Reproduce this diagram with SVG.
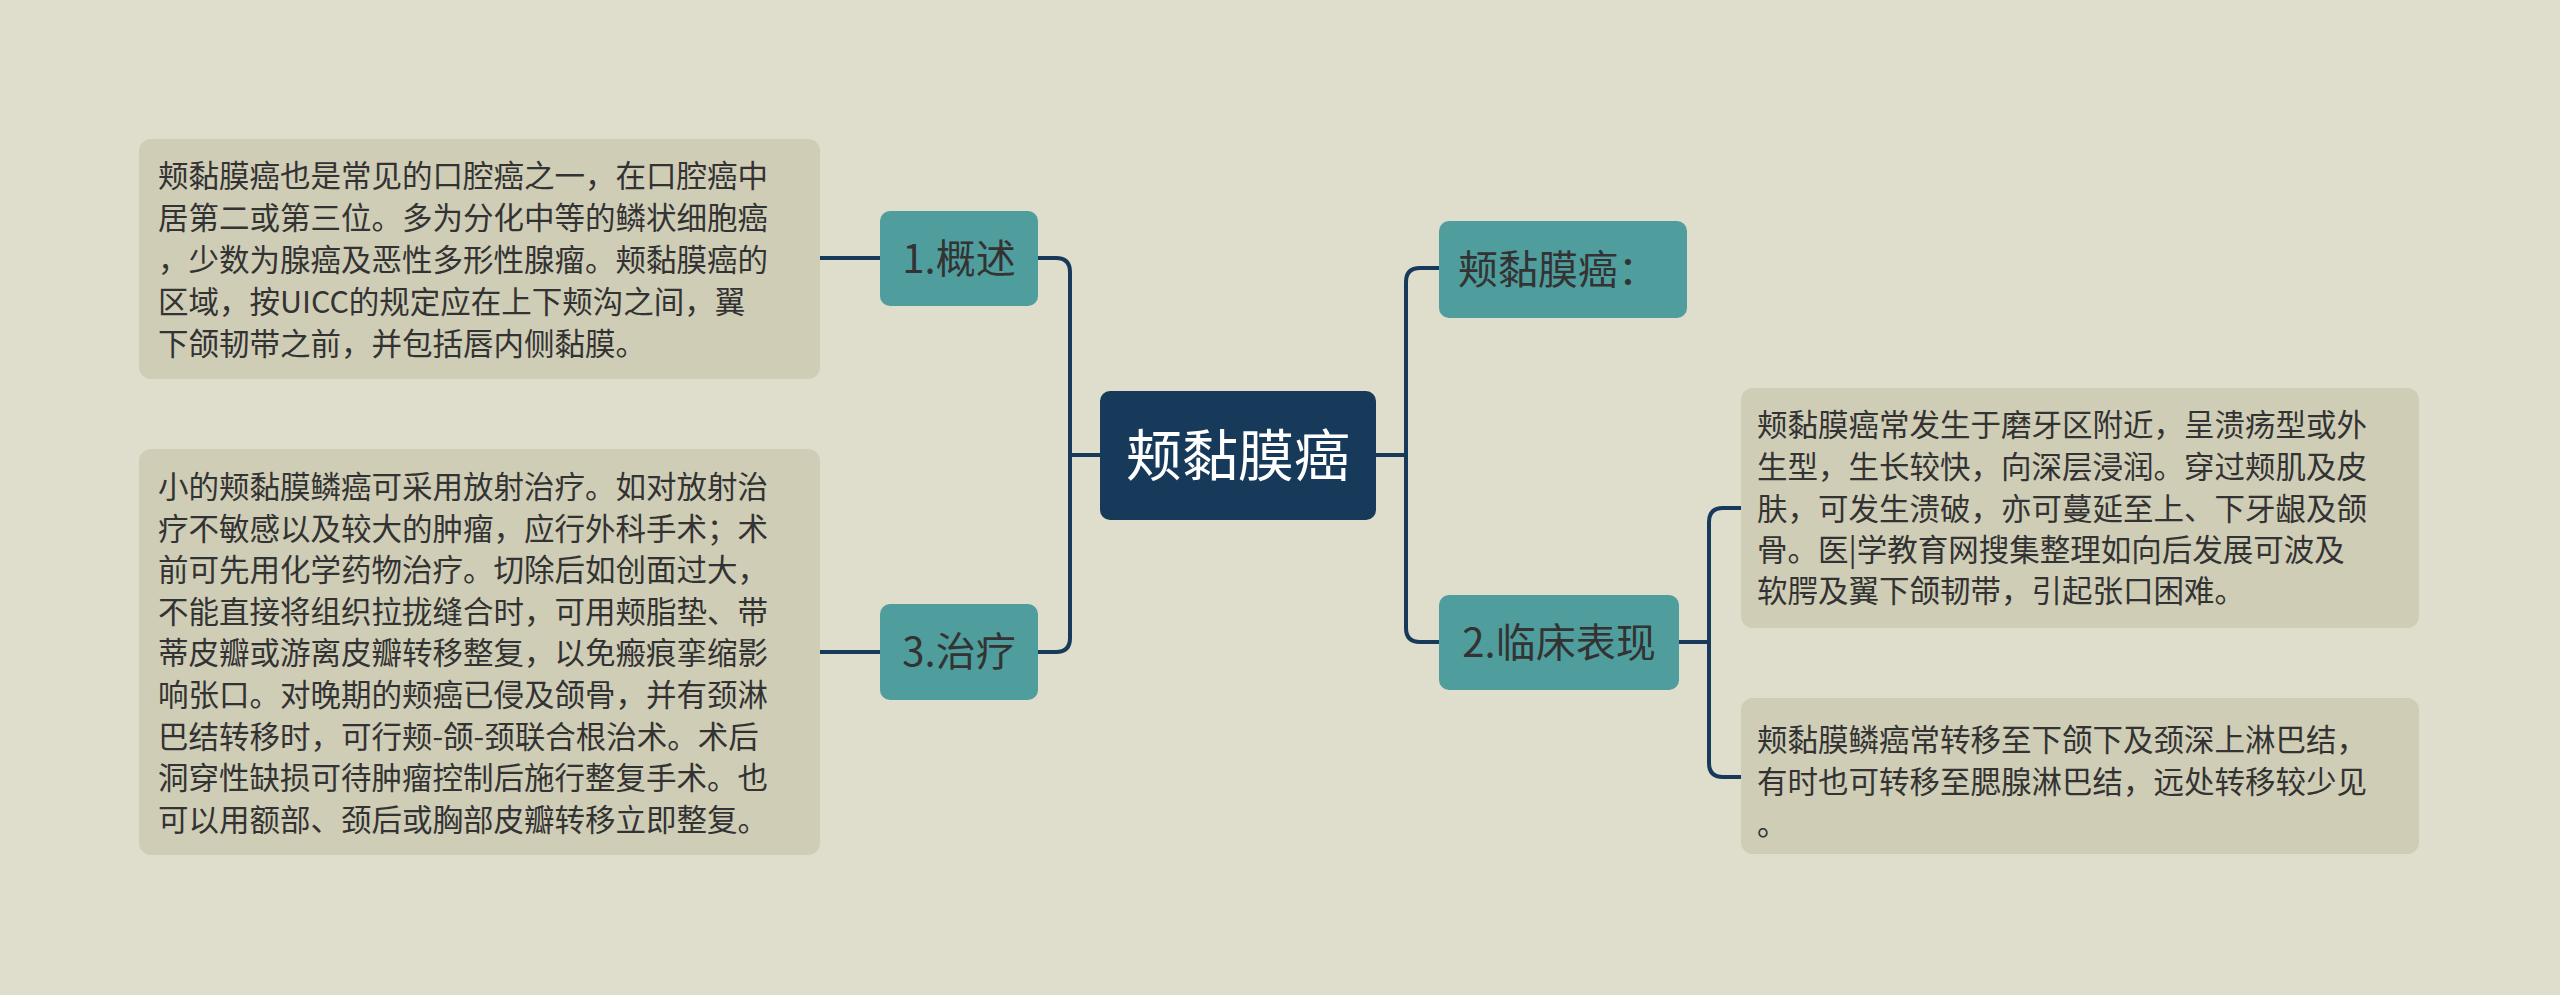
<svg xmlns="http://www.w3.org/2000/svg" width="2560" height="995" viewBox="0 0 2560 995">
<style>
.t{font-family:"Noto Sans CJK SC","Liberation Sans",sans-serif;font-size:30.5px;fill:#333333}
.n{font-family:"Noto Sans CJK SC","Liberation Sans",sans-serif;font-size:40px;fill:#333333}
.box{fill:#cfcdb6}
.node{fill:#4f9d9c}
.c{fill:none;stroke:#173a5a;stroke-width:4}
</style>
<rect width="2560" height="995" fill="#dfddcc"/>
<g id="connectors">
<path class="c" d="M1100 455 H1070 M1038 258 H1056 Q1070 258 1070 272 V638 Q1070 652 1056 652 H1038"/>
<path class="c" d="M820 258 H880 M820 652 H880"/>
<path class="c" d="M1376 455 H1406 M1439 268 H1420 Q1406 268 1406 282 V628 Q1406 642 1420 642 H1439"/>
<path class="c" d="M1679 642 H1709 M1741 508 H1723 Q1709 508 1709 522 V763 Q1709 777 1723 777 H1741"/>
</g>
<g id="root"><rect x="1100" y="391" width="276" height="129" rx="10" fill="#173a5a"/><text x="1238" y="476" text-anchor="middle" font-family="Noto Sans CJK SC,sans-serif" font-size="56" fill="#ffffff">颊黏膜癌</text></g>
<g id="n1"><rect class="node" x="880" y="211" width="158" height="95" rx="10"/><text class="n" x="959" y="273" text-anchor="middle">1.概述</text></g>
<g id="n3"><rect class="node" x="880" y="604" width="158" height="96" rx="10"/><text class="n" x="959" y="666" text-anchor="middle">3.治疗</text></g>
<g id="n4"><rect class="node" x="1439" y="221" width="248" height="97" rx="10"/><text class="n" x="1458" y="284">颊黏膜癌：</text></g>
<g id="n2"><rect class="node" x="1439" y="595" width="240" height="95" rx="10"/><text class="n" x="1559" y="657" text-anchor="middle">2.临床表现</text></g>
<g id="b1"><rect class="box" x="139" y="139" width="681" height="240" rx="12"/>
<text class="t"><tspan x="158" y="187">颊黏膜癌也是常见的口腔癌之一，在口腔癌中</tspan><tspan x="158" y="229">居第二或第三位。多为分化中等的鳞状细胞癌</tspan><tspan x="158" y="271">，少数为腺癌及恶性多形性腺瘤。颊黏膜癌的</tspan><tspan x="158" y="313">区域，按UICC的规定应在上下颊沟之间，翼</tspan><tspan x="158" y="355">下颌韧带之前，并包括唇内侧黏膜。</tspan></text></g>
<g id="b3"><rect class="box" x="139" y="449" width="681" height="406" rx="12"/>
<text class="t"><tspan x="158" y="498">小的颊黏膜鳞癌可采用放射治疗。如对放射治</tspan><tspan x="158" y="540">疗不敏感以及较大的肿瘤，应行外科手术；术</tspan><tspan x="158" y="581">前可先用化学药物治疗。切除后如创面过大，</tspan><tspan x="158" y="623">不能直接将组织拉拢缝合时，可用颊脂垫、带</tspan><tspan x="158" y="664">蒂皮瓣或游离皮瓣转移整复，以免瘢痕挛缩影</tspan><tspan x="158" y="706">响张口。对晚期的颊癌已侵及颌骨，并有颈淋</tspan><tspan x="158" y="748">巴结转移时，可行颊-颌-颈联合根治术。术后</tspan><tspan x="158" y="789">洞穿性缺损可待肿瘤控制后施行整复手术。也</tspan><tspan x="158" y="831">可以用额部、颈后或胸部皮瓣转移立即整复。</tspan></text></g>
<g id="b2"><rect class="box" x="1741" y="388" width="678" height="240" rx="12"/>
<text class="t"><tspan x="1757" y="436">颊黏膜癌常发生于磨牙区附近，呈溃疡型或外</tspan><tspan x="1757" y="478">生型，生长较快，向深层浸润。穿过颊肌及皮</tspan><tspan x="1757" y="520">肤，可发生溃破，亦可蔓延至上、下牙龈及颌</tspan><tspan x="1757" y="561">骨。医|学教育网搜集整理如向后发展可波及</tspan><tspan x="1757" y="602">软腭及翼下颌韧带，引起张口困难。</tspan></text></g>
<g id="b4"><rect class="box" x="1741" y="698" width="678" height="156" rx="12"/>
<text class="t"><tspan x="1757" y="751">颊黏膜鳞癌常转移至下颌下及颈深上淋巴结，</tspan><tspan x="1757" y="793">有时也可转移至腮腺淋巴结，远处转移较少见</tspan><tspan x="1757" y="835">。</tspan></text></g>
</svg>
